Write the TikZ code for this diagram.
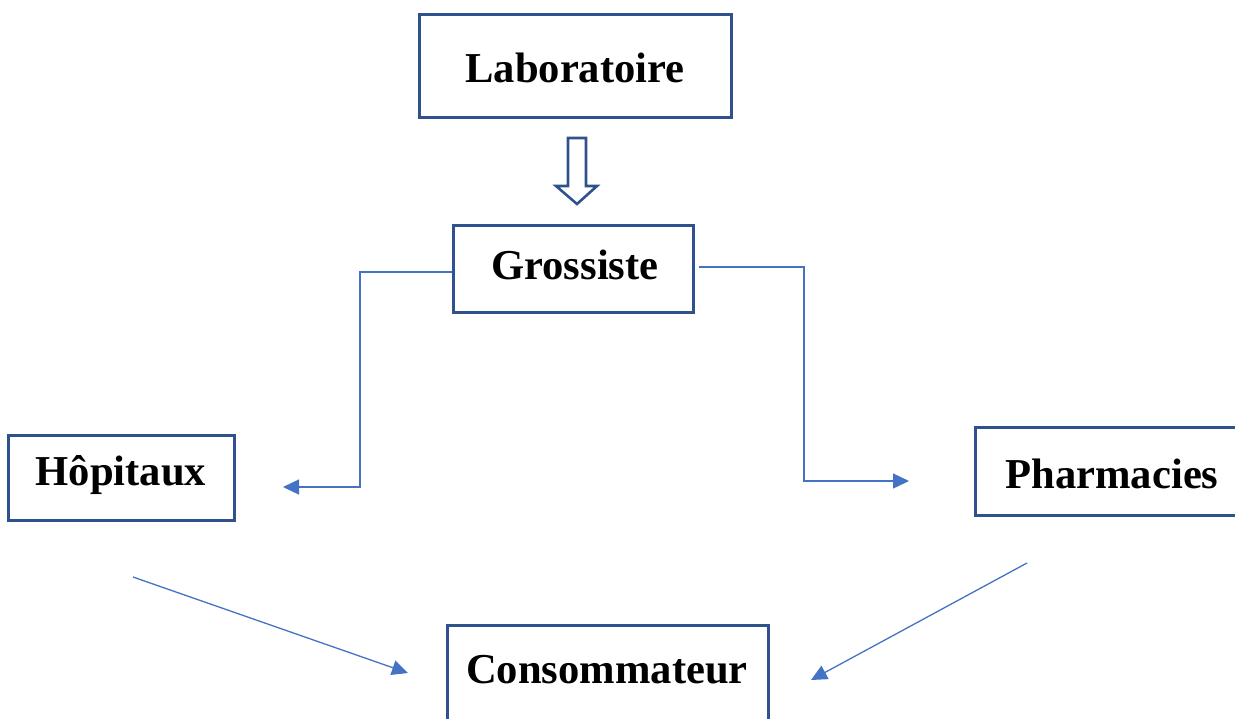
\documentclass[tikz,border=0pt]{standalone}
\usepackage{fontspec}
\setmainfont{Liberation Serif}
\usetikzlibrary{arrows.meta,calc}
\definecolor{boxblue}{RGB}{47,82,143}
\definecolor{linkblue}{RGB}{68,114,196}
\begin{document}
\begin{tikzpicture}[x=1pt,y=-1pt,
  box/.style={draw=boxblue,line width=3pt,fill=white,rectangle,inner sep=0pt},
  lbl/.style={font=\fontsize{42.6}{48}\selectfont\bfseries,inner sep=0pt,anchor=center},
  link/.style={draw=linkblue,line width=1.3pt,-{Triangle[length=16pt,width=15pt]}}]
\useasboundingbox (0,0) rectangle (1235,718);
\clip (0,0) rectangle (1235,718);
% boxes
\node[box,minimum width=312pt,minimum height=103pt] (lab) at (575,65.5) {};
\node[box,minimum width=240pt,minimum height=87pt] (gros) at (573,268.5) {};
\node[box,minimum width=226pt,minimum height=85pt] (hop) at (121,477.5) {};
\node[box,minimum width=300pt,minimum height=88pt] (pha) at (1125,471) {};
\node[box,minimum width=321pt,minimum height=140pt] (cons) at (607.5,695) {};
% labels
\node[lbl] at (575,68) {Laboratoire};
\node[lbl] at (575,265) {Grossiste};
\node[lbl] at (121,475) {Hôpitaux};
\node[lbl] at (1112,474) {Pharmacies};
\node[lbl] at (607,670) {Consommateur};
% block arrow
\draw[draw=boxblue,line width=2.6pt,fill=white,line join=miter]
  (568,138) -- (586,138) -- (586,186) -- (597,186) -- (577,204) -- (556,186) -- (568,186) -- cycle;
% connectors
\coordinate (hopend) at (283,487);
\coordinate (phaend) at (909,481);
\coordinate (hopout) at (133,577);
\coordinate (phaout) at (1027,563);
\coordinate (consL) at (408,673);
\coordinate (consR) at (811,680);
\draw[link] (gros.west |- 0,272) -- (360,272) |- (hopend);
\draw[link] ($(gros.east |- 0,267)+(4,0)$) -- (804,267) |- (phaend);
\draw[link] (hopout) -- (consL);
\draw[link] (phaout) -- (consR);
\end{tikzpicture}
\end{document}
